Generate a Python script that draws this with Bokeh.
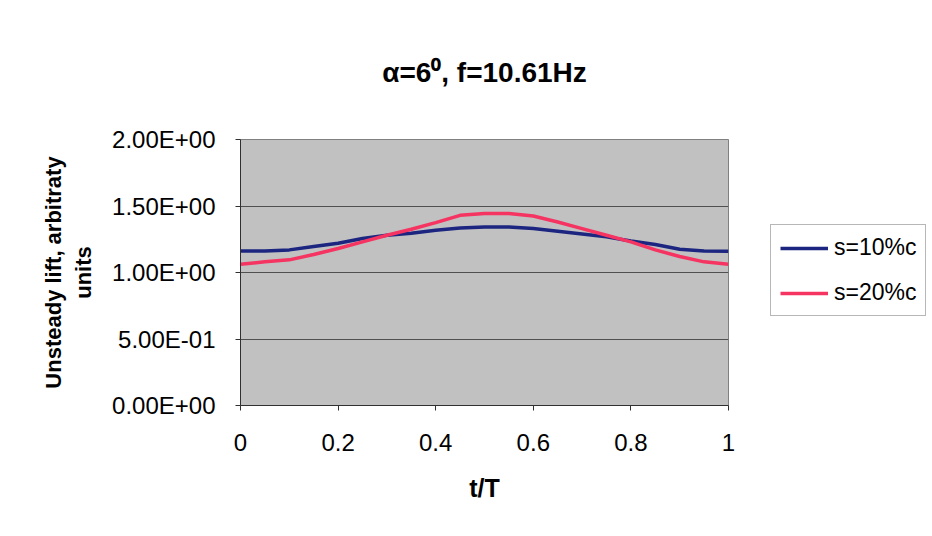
from bokeh.plotting import figure
from bokeh.models import ColumnDataSource, FixedTicker, Legend, LegendItem, Range1d
from bokeh.embed import file_html
from bokeh.resources import INLINE

t = [0.0, 0.05, 0.10, 0.15, 0.20, 0.25, 0.30, 0.35, 0.40, 0.45, 0.50,
     0.55, 0.60, 0.65, 0.70, 0.75, 0.80, 0.85, 0.90, 0.95, 1.0]
s10 = [1.162, 1.162, 1.170, 1.195, 1.220, 1.255, 1.280, 1.295, 1.317, 1.335, 1.343,
       1.343, 1.330, 1.310, 1.290, 1.268, 1.237, 1.210, 1.175, 1.162, 1.160]
s20 = [1.062, 1.080, 1.095, 1.135, 1.180, 1.230, 1.280, 1.325, 1.375, 1.430, 1.443,
       1.443, 1.425, 1.380, 1.330, 1.280, 1.230, 1.170, 1.120, 1.080, 1.062]
series_names = ["s=10%c", "s=20%c"]
y_ticks = [0.0, 0.5, 1.0, 1.5, 2.0]
y_tick_labels = ["0.00E+00", "5.00E-01", "1.00E+00", "1.50E+00", "2.00E+00"]
x_ticks = [0.0, 0.2, 0.4, 0.6, 0.8, 1.0]
x_tick_labels = ["0", "0.2", "0.4", "0.6", "0.8", "1"]
title_text = "α=6⁰, f=10.61Hz"

FONT = "Liberation Sans"

src = ColumnDataSource(dict(t=t, s10=s10, s20=s20))

p = figure(frame_width=488, frame_height=266, output_backend="svg", toolbar_location=None,
           x_range=Range1d(0, 1), y_range=Range1d(0, 2),
           min_border_left=240, min_border_right=200,
           min_border_top=139, min_border_bottom=123)
p.background_fill_color = "#c1c1c1"
p.border_fill_color = "white"
p.outline_line_color = "#808080"

p.title.text = title_text
p.title.align = "center"
p.title.text_font = FONT
p.title.text_font_size = "28px"
p.title.text_font_style = "bold"
p.title.text_color = "black"
p.title.standoff = 104

r1 = p.line("t", "s10", source=src, line_color="#1c2680", line_width=3.5)
r2 = p.line("t", "s20", source=src, line_color="#f53462", line_width=3.5)

p.xgrid.visible = False
p.ygrid.grid_line_color = "#505050"
p.ygrid.grid_line_width = 1

p.yaxis.ticker = FixedTicker(ticks=y_ticks)
p.yaxis.major_label_overrides = {k: v for k, v in zip(y_ticks, y_tick_labels)}
p.xaxis.ticker = FixedTicker(ticks=x_ticks)
p.xaxis.major_label_overrides = {k: v for k, v in zip(x_ticks, x_tick_labels)}

for ax in (p.xaxis[0], p.yaxis[0]):
    ax.axis_line_color = "#303030"
    ax.major_tick_line_color = "#303030"
    ax.major_tick_out = 5
    ax.major_tick_in = 0
    ax.minor_tick_line_color = None
    ax.major_label_text_font = FONT
    ax.major_label_text_font_size = "24px"
    ax.major_label_text_color = "black"
    ax.axis_label_text_font = FONT
    ax.axis_label_text_font_style = "bold"
    ax.axis_label_text_color = "black"

p.xaxis.axis_label = "t/T"
p.xaxis.axis_label_text_font_size = "25px"
p.xaxis.major_label_standoff = 23
p.xaxis.axis_label_standoff = 20
p.yaxis.axis_label = "Unsteady lift, arbitraty\nunits"
p.yaxis.axis_label_text_font_size = "22px"
p.yaxis.major_label_standoff = 20
p.yaxis.axis_label_standoff = 13

legend = Legend(items=[LegendItem(label=series_names[0], renderers=[r1]),
                       LegendItem(label=series_names[1], renderers=[r2])],
                location=(42, 89))
legend.label_text_font = FONT
legend.label_text_font_size = "23px"
legend.label_text_color = "black"
legend.label_height = 26
legend.glyph_height = 26
legend.glyph_width = 48
legend.label_standoff = 6
legend.border_line_color = "#707070"
legend.spacing = 18
legend.padding = 9
legend.margin = 0
p.add_layout(legend, "right")

open("out.html", "w").write(file_html(p, INLINE))
